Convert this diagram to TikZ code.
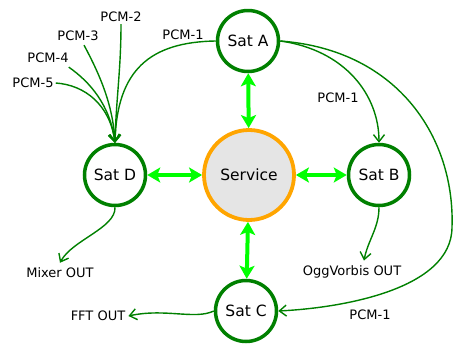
\documentclass[tikz,border=0pt]{standalone}
\usepackage{fontspec}
\setmainfont{DejaVu Sans}
\usetikzlibrary{arrows.meta}
\definecolor{dg}{RGB}{0,128,0}
\definecolor{lg}{RGB}{0,255,0}
\definecolor{og}{RGB}{255,165,0}
\definecolor{sg}{RGB}{229,229,229}
\begin{document}
\begin{tikzpicture}[x=1pt,y=-1pt,
  sat/.style={circle,draw=dg,line width=3.5pt,inner sep=0pt,minimum size=61pt,font=\fontsize{15.5}{18}\selectfont},
  svc/.style={circle,draw=og,fill=sg,line width=3.8pt,inner sep=0pt,minimum size=90pt,font=\fontsize{15.5}{18}\selectfont},
  lbl/.style={inner sep=0pt,font=\fontsize{13}{15}\selectfont},
  flow/.style={draw=dg,line width=1.4pt,-{Straight Barb[length=7pt,width=11pt]}},
  link/.style={draw=lg,line width=4pt,{Stealth[length=13pt,width=15pt,inset=3pt]}-{Stealth[length=13pt,width=15pt,inset=3pt]}}]
\useasboundingbox (0,0) rectangle (453,346);

\node[svc] (S) at (249,175) {Service};
\node[sat] (A) at (248,41) {Sat A};
\node[sat] (D) at (115,175) {Sat D};
\node[sat] (B) at (379,175) {Sat B};
\node[sat] (C) at (246,311) {Sat C};

\node[lbl] (p2) at (121,17) {PCM-2};
\node[lbl] (p3) at (78,36) {PCM-3};
\node[lbl] (p4) at (48,58) {PCM-4};
\node[lbl] (p5) at (33,83) {PCM-5};
\node[lbl] (a1) at (183,35) {PCM-1};
\node[lbl] (b1) at (338,98) {PCM-1};
\node[lbl] (c1) at (370,315) {PCM-1};
\node[lbl] (mix) at (60,273) {Mixer OUT};
\node[lbl] (ogg) at (352,272) {OggVorbis OUT};
\node[lbl] (fft) at (98,316) {FFT OUT};

\draw[link] (A) -- (S);
\draw[link] (D) -- (S);
\draw[link] (S) -- (B);
\draw[link] (S) -- (C);

\draw[flow] (A.west) .. controls (150,42) and (117,70) .. (D.north);
\draw[flow] ([yshift=-2pt]p2.south) .. controls (121,70) and (116,100) .. (D.north);
\draw[flow] ([xshift=6pt,yshift=-4pt]p3.south) .. controls (100,75) and (113,105) .. (D.north);
\draw[flow] ([yshift=-4pt]p4.south east) .. controls (90,82) and (110,105) .. (D.north);
\draw[flow] ([xshift=2pt]p5.east) .. controls (85,85) and (110,105) .. (D.north);

\draw[flow] (A.east) .. controls (345,50) and (379,95) .. (B.north);
\draw[flow] (A.east) .. controls (400,50) and (455,140) .. (452,227) .. controls (452,290) and (340,308) .. (C.east);

\draw[flow] (D.south) .. controls (116,228) and (72,240) .. ([yshift=5pt]mix.north);
\draw[flow] (B.south) .. controls (379,228) and (368,240) .. ([xshift=12pt,yshift=5pt]ogg.north);
\draw[flow] (C.west) .. controls (195,320) and (165,308) .. ([xshift=3pt]fft.east);
\end{tikzpicture}
\end{document}
